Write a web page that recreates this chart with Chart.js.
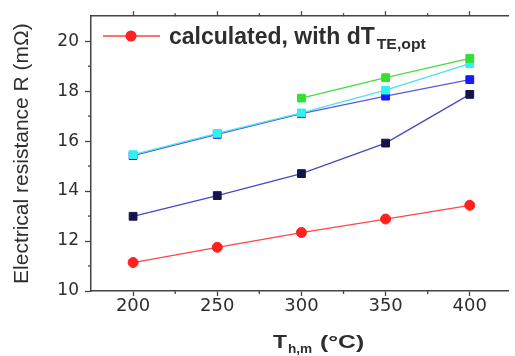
<!DOCTYPE html>
<html><head><meta charset="utf-8">
<script src="https://cdn.jsdelivr.net/npm/chart.js@4"></script>
<style>html,body{margin:0;padding:0;background:#fff;}#wrap{width:515px;height:356px;}</style>
</head><body><div id="wrap"><canvas id="c" width="515" height="356"></canvas></div>
<script>
const temps = [200, 250, 300, 350, 400];
const redCalc = [11.14, 11.75, 12.34, 12.88, 13.43];
const navySeries = [12.99, 13.82, 14.70, 15.92, 17.87];
const blueSeries = [15.42, 16.27, 17.10, 17.80, 18.46];
const cyanSeries = [15.46, 16.31, 17.13, 18.04, 19.10];
const greenSeries = [null, null, 17.72, 18.54, 19.31];
const xTicks = [200, 250, 300, 350, 400];
const xMinor = [225, 275, 325, 375];
const yTicks = [10, 12, 14, 16, 18, 20];
const yMinor = [11, 13, 15, 17, 19];
const legendLabel = "calculated, with dT";
const legendSub = "TE,opt";
const xTitleMain = "T";
const xTitleSub = "h,m";
const xTitleRest = "(°C)";
const yTitle = "Electrical resistance R (mΩ)";

const pts = arr => temps.map((t, i) => ({x: t, y: arr[i]}));
const AX = '#444';
const TXT = '#2e2e2e';
const LIB = '"Liberation Sans", Arial, sans-serif';
const DJ = '"DejaVu Sans", sans-serif';

function ds(label, arr, pc, lc, style, r) {
  return {label, data: pts(arr), borderColor: lc, backgroundColor: pc, pointBackgroundColor: pc,
    pointBorderColor: pc, pointStyle: style, pointRadius: r, pointHoverRadius: r, borderWidth: 1.3,
    pointBorderWidth: 1, spanGaps: false, tension: 0};
}

function sText(ctx, t, x, y, font, sx) {
  ctx.save(); ctx.font = font; ctx.translate(x, y); ctx.scale(sx, 1);
  ctx.fillText(t, 0, 0); const w = ctx.measureText(t).width * sx; ctx.restore(); return w;
}

const extras = {
  id: 'extras',
  afterDraw(chart) {
    const ctx = chart.ctx, x = chart.scales.x, y = chart.scales.y, a = chart.chartArea;
    ctx.save();
    ctx.strokeStyle = AX; ctx.lineWidth = 1.3;
    xMinor.forEach(v => { const px = x.getPixelForValue(v);
      ctx.beginPath(); ctx.moveTo(px, a.bottom); ctx.lineTo(px, a.bottom + 3); ctx.stroke();
      ctx.beginPath(); ctx.moveTo(px, a.top); ctx.lineTo(px, a.top - 3); ctx.stroke(); });
    yMinor.forEach(v => { const py = y.getPixelForValue(v);
      ctx.beginPath(); ctx.moveTo(a.left, py); ctx.lineTo(a.left - 3, py); ctx.stroke(); });
    // legend
    const ly = 36, lx = 103;
    ctx.strokeStyle = '#ff4040'; ctx.lineWidth = 1.3;
    ctx.beginPath(); ctx.moveTo(lx, ly); ctx.lineTo(lx + 57, ly); ctx.stroke();
    ctx.fillStyle = '#ff2020';
    ctx.beginPath(); ctx.arc(lx + 28, ly, 5.5, 0, Math.PI * 2); ctx.fill();
    ctx.fillStyle = TXT; ctx.textBaseline = 'alphabetic'; ctx.textAlign = 'left';
    const w = sText(ctx, legendLabel, 169, 43.5, 'bold 23px ' + LIB, 1.0);
    sText(ctx, legendSub, 169 + w + 2, 48.5, 'bold 15px ' + LIB, 1.05);
    // x title
    const tb = 348;
    const w1 = sText(ctx, xTitleMain, 273, tb, 'bold 19px ' + LIB, 1.2);
    sText(ctx, xTitleSub, 273 + w1 + 1, tb + 5, 'bold 13px ' + LIB, 1.05);
    sText(ctx, xTitleRest, 320, tb, 'bold 19px ' + LIB, 1.3);
    ctx.restore();
  }
};

new Chart(document.getElementById('c'), {
  type: 'line',
  data: { datasets: [
    ds('calculated', redCalc, '#ff2020', '#ff4545', 'circle', 5),
    ds('green', greenSeries, '#33e033', '#44dd44', 'rect', 5.5),
    ds('cyan', cyanSeries, '#33f0f0', '#44e4f0', 'rect', 5.5),
    ds('blue', blueSeries, '#1818f8', '#5a5ae0', 'rect', 5.5),
    ds('navy', navySeries, '#14144e', '#4848c4', 'rect', 5.5)
  ]},
  options: {
    responsive: false, animation: false, devicePixelRatio: 1,
    layout: { padding: { left: 0, right: 0, top: 0, bottom: 0 } },
    plugins: { legend: { display: false }, tooltip: { enabled: false } },
    scales: {
      x: { type: 'linear', position: 'bottom', min: 175, max: 423,
        afterBuildTicks: s => { s.ticks = xTicks.map(v => ({value: v})); },
        afterFit: s => { s.height = 65; },
        grid: { drawOnChartArea: false, drawTicks: true, tickLength: 5, tickColor: AX, tickWidth: 1.3 },
        border: { color: AX, width: 1.5 },
        ticks: { color: TXT, font: { size: 18, family: DJ }, padding: 0, maxRotation: 0 } },
      x2: { type: 'linear', position: 'top', min: 175, max: 423,
        afterBuildTicks: s => { s.ticks = xTicks.map(v => ({value: v})); },
        afterFit: s => { s.height = 14; },
        grid: { drawOnChartArea: false, drawTicks: true, tickLength: 5, tickColor: AX, tickWidth: 1.3 },
        border: { color: AX, width: 1.5 },
        ticks: { display: false } },
      y: { type: 'linear', min: 10, max: 21,
        afterBuildTicks: s => { s.ticks = yTicks.map(v => ({value: v})); },
        afterFit: s => { s.width = 91; },
        grid: { drawOnChartArea: false, drawTicks: true, tickLength: 6, tickColor: AX, tickWidth: 1.3 },
        border: { color: AX, width: 1.5 },
        ticks: { color: TXT, font: { size: 17, family: DJ }, padding: 6 },
        title: { display: true, text: yTitle, color: TXT, font: { size: 21, family: LIB }, padding: { top: 10, bottom: 4 } } }
    }
  },
  plugins: [extras]
});
</script></body></html>
